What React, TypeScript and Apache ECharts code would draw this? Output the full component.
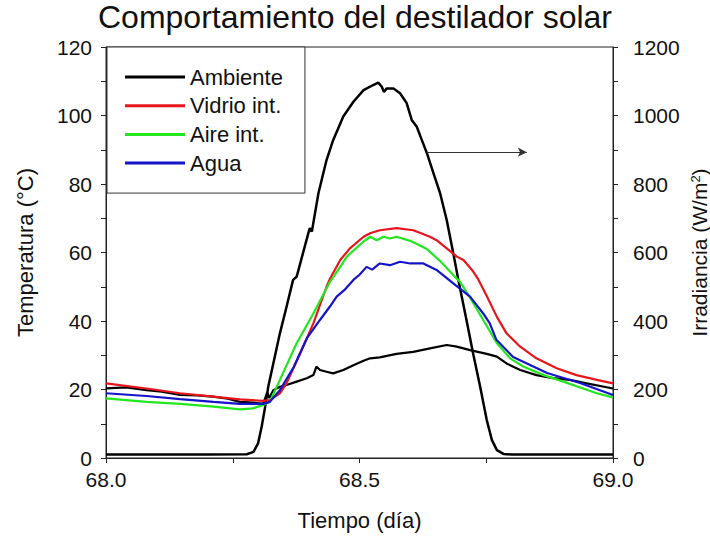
import React, { useEffect, useRef } from 'react';
import * as echarts from 'echarts';

// Tiempo (día), Irradiancia (W/m²)
const irradiance: [number, number][] = [
  [68.0, 10], [68.1, 10], [68.2, 10], [68.2775, 11], [68.291, 18], [68.3, 43], [68.307, 91],
  [68.314, 150], [68.32, 208], [68.33, 276], [68.343, 364], [68.356, 441], [68.369, 520],
  [68.376, 529], [68.399, 656], [68.402, 671], [68.406, 661], [68.419, 773], [68.435, 870],
  [68.448, 928], [68.468, 997], [68.488, 1040], [68.508, 1074], [68.527, 1089], [68.537, 1096],
  [68.544, 1084], [68.548, 1069], [68.554, 1079], [68.567, 1079], [68.58, 1065], [68.593, 1036],
  [68.603, 987], [68.613, 967], [68.623, 928], [68.633, 890], [68.646, 831], [68.659, 773],
  [68.672, 695], [68.685, 598], [68.695, 520], [68.711, 403], [68.724, 306], [68.738, 208],
  [68.751, 111], [68.761, 53], [68.771, 23], [68.784, 12], [68.8, 10], [68.9, 10], [69.0, 10],
];

// Temperatura (°C)
const ambiente: [number, number][] = [
  [68.0, 20.3], [68.04, 20.6], [68.08, 19.8], [68.11, 19.4], [68.146, 18.4], [68.18, 18.3],
  [68.211, 17.9], [68.24, 17.3], [68.264, 16.4], [68.29, 16.2], [68.31, 15.8], [68.318, 19.2],
  [68.322, 17.5], [68.33, 19.8], [68.343, 20.8], [68.356, 21.3], [68.376, 22.3], [68.396, 23.3],
  [68.409, 24.2], [68.415, 26.7], [68.422, 25.7], [68.435, 25.2], [68.448, 24.7], [68.468, 25.7],
  [68.488, 27.1], [68.508, 28.4], [68.521, 29.1], [68.54, 29.4], [68.573, 30.4], [68.606, 31.0],
  [68.639, 32.0], [68.672, 33.0], [68.692, 32.5], [68.718, 31.5], [68.751, 30.4], [68.771, 29.6],
  [68.79, 27.6], [68.817, 25.7], [68.849, 24.2], [68.882, 23.3], [68.915, 22.8], [68.948, 21.8],
  [69.0, 20.3],
];

const vidrio: [number, number][] = [
  [68.0, 21.8], [68.08, 20.3], [68.146, 18.9], [68.212, 17.9], [68.264, 17.1], [68.31, 16.7],
  [68.323, 16.9], [68.343, 18.9], [68.356, 21.8], [68.383, 30.5], [68.409, 39.3], [68.435, 50.0],
  [68.442, 52.4], [68.462, 57.8], [68.481, 61.2], [68.508, 64.6], [68.521, 65.6], [68.54, 66.5],
  [68.573, 67.1], [68.606, 66.5], [68.639, 64.6], [68.652, 63.6], [68.672, 61.2], [68.692, 58.8],
  [68.705, 57.8], [68.724, 54.5], [68.734, 52.2], [68.751, 47.3], [68.771, 41.2], [68.79, 36.4],
  [68.817, 32.5], [68.849, 29.1], [68.889, 26.2], [68.928, 24.2], [68.968, 22.8], [69.0, 21.8],
];

const aire: [number, number][] = [
  [68.0, 17.4], [68.08, 16.4], [68.146, 15.8], [68.212, 15.0], [68.264, 14.2], [68.29, 14.5],
  [68.31, 15.5], [68.323, 16.4], [68.343, 22.8], [68.376, 33.5], [68.409, 42.2], [68.442, 51.5],
  [68.462, 55.8], [68.475, 58.8], [68.508, 63.2], [68.521, 64.6], [68.534, 63.6], [68.547, 64.6],
  [68.56, 64.1], [68.573, 64.6], [68.6, 63.4], [68.633, 61.0], [68.659, 57.5], [68.685, 53.4],
  [68.698, 51.5], [68.718, 46.8], [68.744, 40.3], [68.771, 33.5], [68.797, 29.1], [68.823, 26.7],
  [68.863, 24.2], [68.902, 22.3], [68.941, 20.3], [68.968, 18.9], [69.0, 17.7],
];

const agua: [number, number][] = [
  [68.0, 18.9], [68.08, 18.1], [68.146, 17.2], [68.212, 16.4], [68.264, 15.8], [68.31, 15.8],
  [68.323, 16.4], [68.343, 19.8], [68.37, 26.5], [68.396, 34.9], [68.422, 40.3], [68.442, 44.3],
  [68.455, 47.1], [68.47, 49.0], [68.488, 52.0], [68.5, 53.5], [68.514, 55.8], [68.525, 55.0],
  [68.54, 56.8], [68.56, 56.3], [68.58, 57.3], [68.6, 56.8], [68.626, 56.8], [68.652, 54.9],
  [68.685, 51.0], [68.718, 47.1], [68.744, 42.2], [68.757, 39.3], [68.77, 34.5], [68.803, 29.5],
  [68.87, 24.8], [68.935, 21.9], [69.0, 18.4],
];

const legendNames = ['Ambiente', 'Vidrio int.', 'Aire int.', 'Agua'];
const arrowFrom: [number, number] = [68.633, 893];
const arrowTo: [number, number] = [68.83, 893];

export default function App() {
  const ref = useRef<HTMLDivElement>(null);
  useEffect(() => {
    if (!ref.current) return;
    const chart = echarts.init(ref.current, null, { renderer: 'svg' });
    const font = "'Liberation Sans', Arial, sans-serif";
    const txt = '#111';
    const axisCommon = {
      axisLine: { show: true, lineStyle: { color: '#222', width: 1 } },
      axisTick: { show: true, inside: false, length: 5, lineStyle: { color: '#222' } },
      splitLine: { show: false },
      nameLocation: 'middle' as const,
      nameTextStyle: { fontSize: 22, color: txt, fontFamily: font },
    };
    chart.setOption({
      animation: false,
      backgroundColor: '#fff',
      textStyle: { fontFamily: font },
      title: {
        text: 'Comportamiento del destilador solar',
        left: 'center',
        top: 0,
        padding: [1, 0, 0, 0],
        textStyle: { fontSize: 32, fontWeight: 'normal', color: txt, fontFamily: font },
      },
      grid: {
        left: 106,
        right: 97,
        top: 47,
        bottom: 81,
        show: true,
        borderColor: '#222',
        borderWidth: 1,
        outerBoundsMode: 'none',
        containLabel: false,
      },
      legend: {
        data: legendNames,
        orient: 'vertical',
        left: 107,
        top: 47,
        padding: [19, 22, 19, 18],
        icon: 'rect',
        itemWidth: 60,
        itemHeight: 3,
        itemGap: 6.7,
        borderColor: '#333',
        borderWidth: 1,
        backgroundColor: '#fff',
        textStyle: { fontSize: 22, lineHeight: 22, color: txt, fontFamily: font },
      },
      xAxis: {
        type: 'value',
        min: 68,
        max: 69,
        interval: 0.25,
        ...axisCommon,
        name: 'Tiempo (día)',
        nameGap: 51,
        axisLabel: {
          fontSize: 21,
          color: txt,
          margin: 11,
          formatter: (v: number) => (Math.abs(v * 2 - Math.round(v * 2)) < 1e-6 ? v.toFixed(1) : ''),
        },
      },
      yAxis: [
        {
          type: 'value',
          min: 0,
          max: 120,
          interval: 10,
          position: 'left',
          ...axisCommon,
          name: 'Temperatura (°C)',
          nameRotate: 90,
          nameGap: 70,
          axisLabel: {
            fontSize: 21,
            color: txt,
            margin: 14,
            formatter: (v: number) => (v % 20 === 0 ? String(v) : ''),
          },
        },
        {
          type: 'value',
          min: 0,
          max: 1200,
          interval: 100,
          position: 'right',
          ...axisCommon,
          name: 'Irradiancia (W/m{sup|2})',
          nameRotate: 90,
          nameGap: 76,
          nameMoveOverlap: false,
          nameTextStyle: {
            fontSize: 21,
            color: txt,
            fontFamily: font,
            rich: { sup: { fontSize: 13, verticalAlign: 'top', color: txt, fontFamily: font } },
          },
          axisLabel: {
            fontSize: 21,
            color: txt,
            margin: 20,
            formatter: (v: number) => (v % 200 === 0 ? String(v) : ''),
          },
        },
      ],
      series: [
        {
          name: 'Irradiancia',
          type: 'line',
          yAxisIndex: 1,
          symbol: 'none',
          data: irradiance,
          lineStyle: { color: '#000', width: 2.5 },
          itemStyle: { color: '#000' },
          z: 3,
          markLine: {
            silent: true,
            symbol: ['none', 'arrow'],
            symbolSize: [7, 9],
            label: { show: false },
            lineStyle: { color: '#333', width: 1, type: 'solid' },
            data: [[{ coord: arrowFrom }, { coord: arrowTo }]],
          },
        },
        {
          name: 'Ambiente',
          type: 'line',
          symbol: 'none',
          data: ambiente,
          lineStyle: { color: '#000', width: 2.2 },
          itemStyle: { color: '#000' },
        },
        {
          name: 'Vidrio int.',
          type: 'line',
          symbol: 'none',
          data: vidrio,
          lineStyle: { color: '#e8161c', width: 2.2 },
          itemStyle: { color: '#e8161c' },
        },
        {
          name: 'Aire int.',
          type: 'line',
          symbol: 'none',
          data: aire,
          lineStyle: { color: '#22e61e', width: 2.2 },
          itemStyle: { color: '#22e61e' },
        },
        {
          name: 'Agua',
          type: 'line',
          symbol: 'none',
          data: agua,
          lineStyle: { color: '#1414c8', width: 2.2 },
          itemStyle: { color: '#1414c8' },
        },
      ],
    });
    return () => chart.dispose();
  }, []);
  return <div ref={ref} style={{ position: 'fixed', left: 0, top: 0, width: 710, height: 539 }} />;
}
